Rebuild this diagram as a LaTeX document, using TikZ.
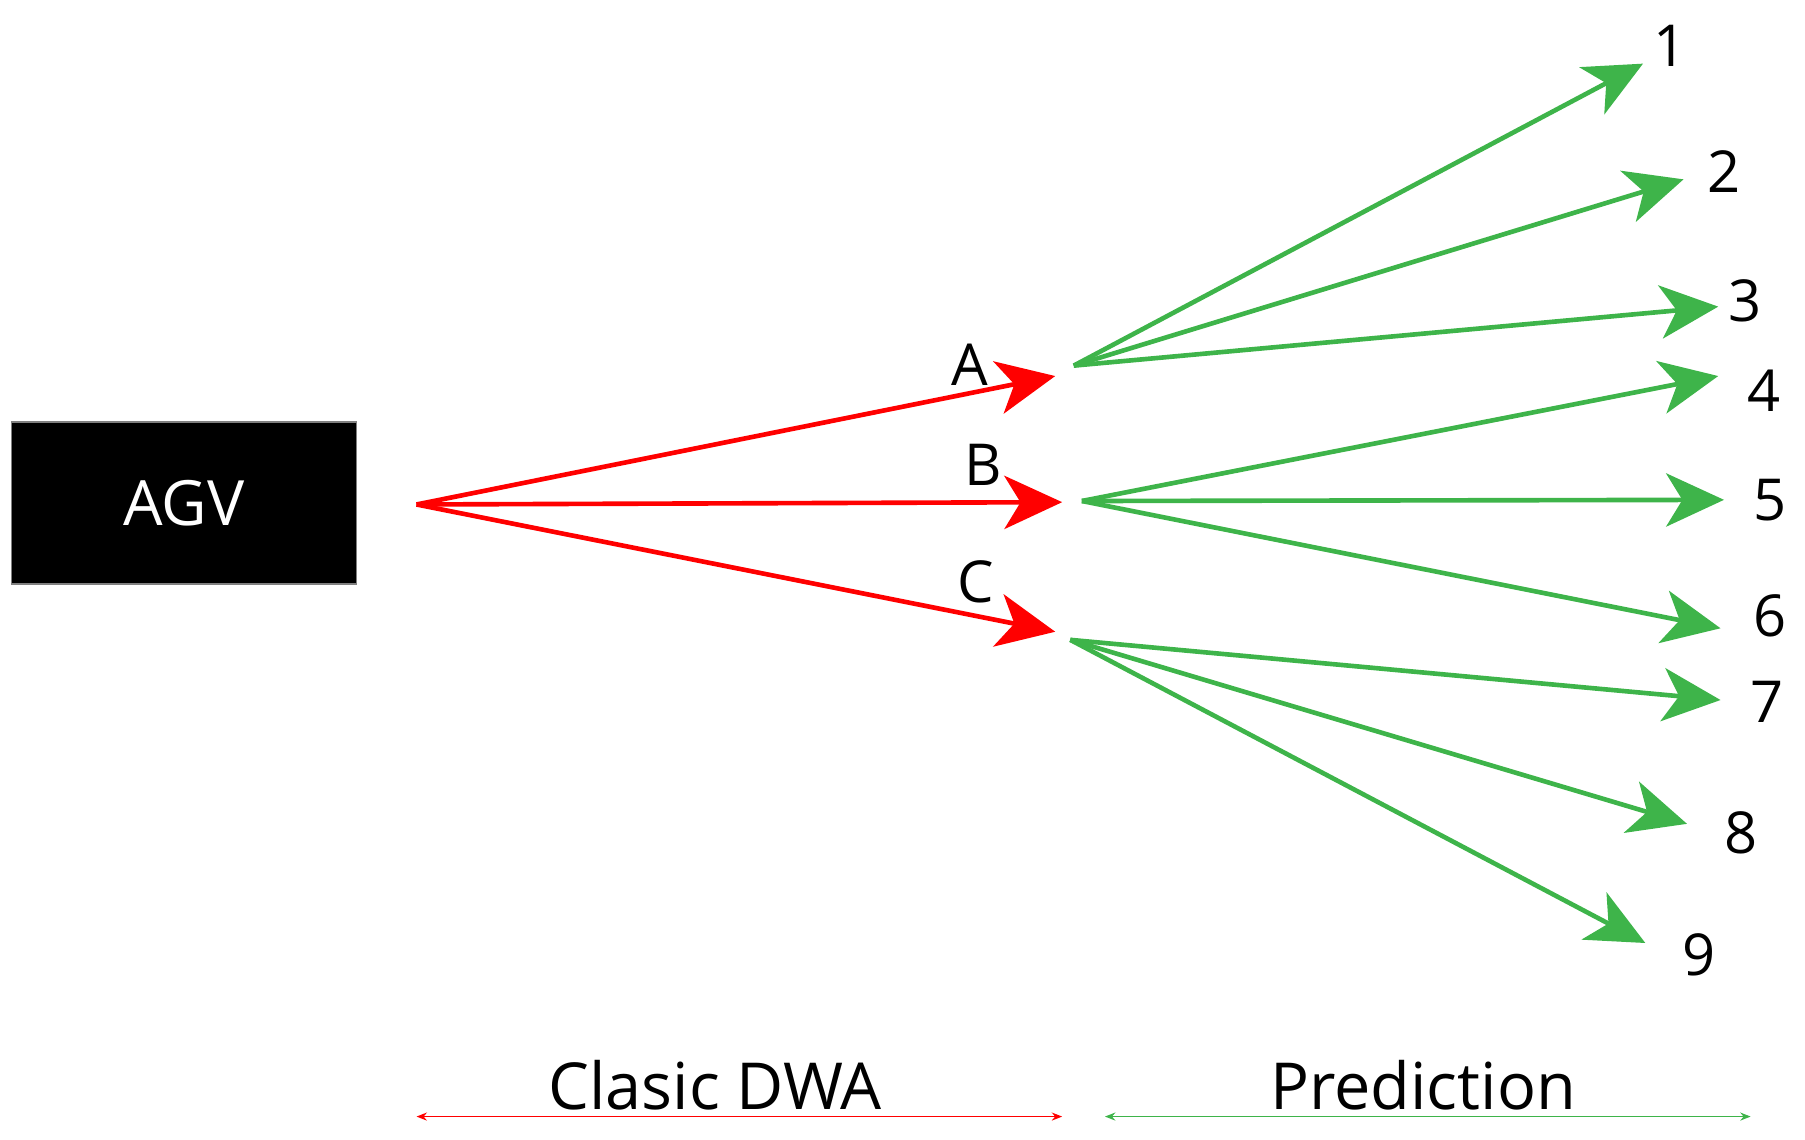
\documentclass[tikz,border=0pt]{standalone}
\usepackage{fontspec}
\setmainfont{Open Sans}
\usetikzlibrary{arrows.meta}
\definecolor{gr}{RGB}{62,180,74}
\begin{document}
\begin{tikzpicture}[x=1pt,y=-1pt,
  red arr/.style={draw=red,line width=4pt,-{Stealth[length=50pt,width=46pt,inset=14pt]}},
  gr arr/.style={draw=gr,line width=4pt,-{Stealth[length=50pt,width=46pt,inset=14pt]}},
  lbl/.style={font=\fontsize{50}{60}\selectfont},
  dim/.style={line width=1.2pt,{Stealth[length=9pt,width=7pt]}-{Stealth[length=9pt,width=7pt]}}]
\useasboundingbox (0,0) rectangle (1560,985);
\node[fill=black,draw=gray,line width=1.5pt,minimum width=298pt,minimum height=140pt,text=white,font=\fontsize{54}{60}\selectfont] (agv) at (159,435) {AGV};
\coordinate (o) at (360,436);
\coordinate (ta) at (912,325); \coordinate (tb) at (918,434); \coordinate (tc) at (912,546);
\draw[red arr] (o) -- (ta);
\draw[red arr] (o) -- (tb);
\draw[red arr] (o) -- (tc);
\node[lbl] (la) at (838,315) {A};
\node[lbl] (lb) at (850,402) {B};
\node[lbl] (lc) at (843,503) {C};
\coordinate (ga) at (928,316); \coordinate (gb) at (935,433); \coordinate (gc) at (925,553);
\coordinate (t1) at (1420,55); \coordinate (t2) at (1455,155); \coordinate (t3) at (1485,265);
\coordinate (t4) at (1485,325); \coordinate (t5) at (1490,432); \coordinate (t6) at (1487,543);
\coordinate (t7) at (1487,605); \coordinate (t8) at (1458,712); \coordinate (t9) at (1422,815);
\foreach \t in {1,2,3} \draw[gr arr] (ga) -- (t\t);
\foreach \t in {4,5,6} \draw[gr arr] (gb) -- (t\t);
\foreach \t in {7,8,9} \draw[gr arr] (gc) -- (t\t);
\node[lbl] (n1) at (1443,40) {1};
\node[lbl] (n2) at (1490,148) {2};
\node[lbl] (n3) at (1508,260) {3};
\node[lbl] (n4) at (1525,338) {4};
\node[lbl] (n5) at (1530,432) {5};
\node[lbl] (n6) at (1530,532) {6};
\node[lbl] (n7) at (1527,607) {7};
\node[lbl] (n8) at (1505,720) {8};
\node[lbl] (n9) at (1468,825) {9};
\coordinate (d1) at (360,965); \coordinate (d2) at (918,965);
\coordinate (d3) at (955,965); \coordinate (d4) at (1513,965);
\draw[dim,red] (d1) -- (d2);
\draw[dim,gr] (d3) -- (d4);
\node[lbl,font=\fontsize{56}{60}\selectfont] (cd) at (618,938) {Clasic DWA};
\node[lbl,font=\fontsize{56}{60}\selectfont] (pr) at (1230,938) {Prediction};
\end{tikzpicture}
\end{document}
